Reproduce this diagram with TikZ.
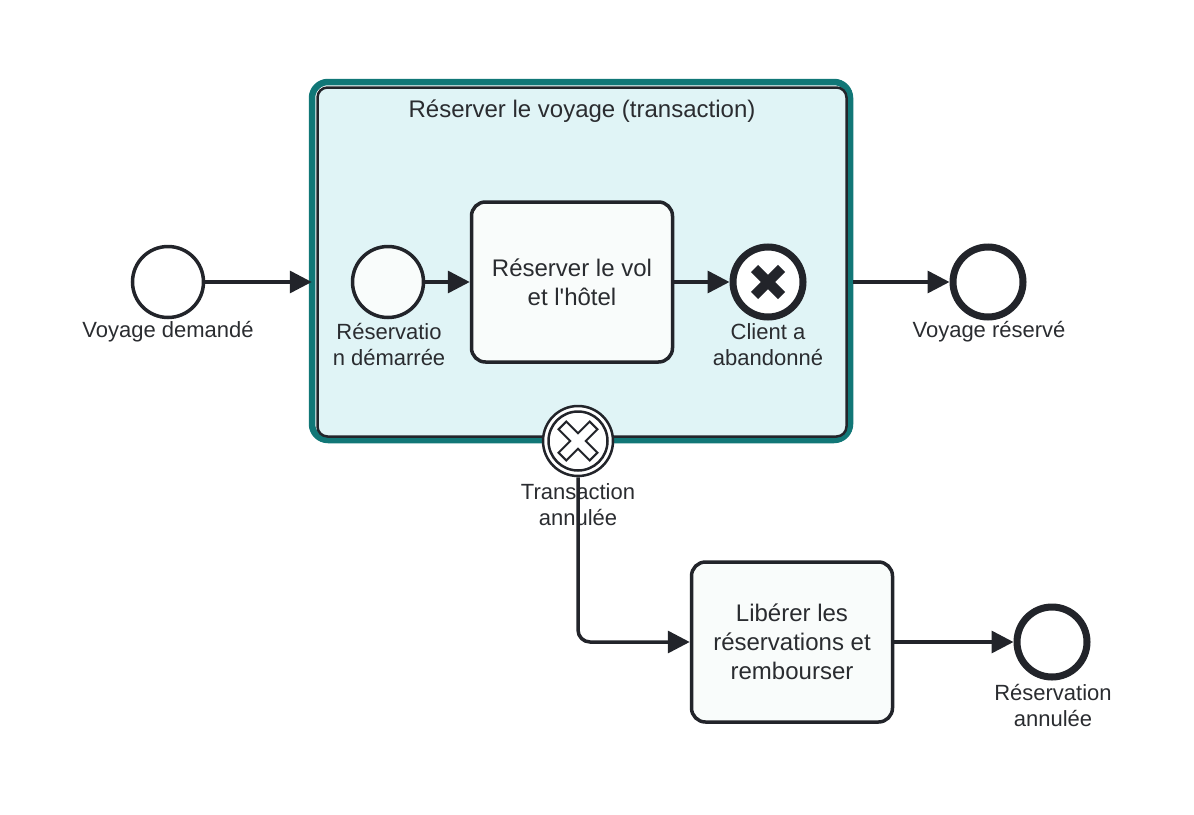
\documentclass[tikz,border=0pt]{standalone}
\usepackage{fontspec}
\setmainfont{Liberation Sans}[Ligatures=TeXOff]
\usetikzlibrary{arrows.meta}
\definecolor{ink}{HTML}{22242A}
\definecolor{tealb}{HTML}{117777}
\definecolor{subfill}{HTML}{E0F4F6}
\definecolor{txt}{HTML}{2A2C30}
\definecolor{taskfill}{HTML}{F9FCFB}
\begin{document}
\begin{tikzpicture}[x=1pt,y=-1pt,
  lbl/.style={font=\fontsize{22}{26}\selectfont, text=txt, align=center, inner sep=0pt},
  tasktext/.style={font=\fontsize{24}{29}\selectfont, text=txt, align=center},
  flow/.style={draw=ink, line width=3.5pt, -{Triangle[length=22pt,width=22pt]}},
  evt/.style={circle, draw=ink, line width=3.5pt, minimum size=71pt, inner sep=0pt, fill=white},
  endevt/.style={circle, draw=ink, line width=7pt, minimum size=70pt, inner sep=0pt, fill=white},
  bevt/.style={circle, draw=ink, line width=2.5pt, minimum size=70pt, inner sep=0pt, fill=white},
  taskbox/.style={draw=ink, line width=3.5pt, rounded corners=14pt, fill=taskfill, minimum width=201pt, minimum height=160pt, tasktext}
]
\useasboundingbox (0,0) rectangle (1194,814);

% transaction subprocess
\node[draw=tealb, line width=6.5pt, rounded corners=16pt, fill=white, minimum width=538pt, minimum height=358pt] (trx) at (581,261) {};
\node[draw=ink, line width=2.5pt, rounded corners=10pt, fill=subfill, minimum width=529pt, minimum height=349pt] (trxin) at (582,262) {};
\node[tasktext, inner sep=0pt] (trxtitle) at (582,111.5) {Réserver le voyage (transaction)};

% events and tasks
\node[evt] (s1) at (168,282) {};
\node[lbl] (s1l) at (168,332) {Voyage demandé};

\node[evt, fill=taskfill] (s2) at (388,282) {};
\node[lbl] (s2l) at (389,345) {Réservatio\\n démarrée};

\node[taskbox] (t1) at (572,282) {Réserver le vol\\et l'hôtel};

\node[endevt] (e1) at (768,282) {};
\draw[ink, line width=10pt] ([shift={(-13.5,-13.5)}]e1.center) -- ([shift={(13.5,13.5)}]e1.center);
\draw[ink, line width=10pt] ([shift={(-13.5,13.5)}]e1.center) -- ([shift={(13.5,-13.5)}]e1.center);
\node[lbl] (e1l) at (768,345) {Client a\\abandonné};

\node[endevt] (e2) at (988,282) {};
\node[lbl] (e2l) at (989,332) {Voyage réservé};

\node[bevt] (b) at (578,441) {};
\draw[ink, line width=2.5pt] (b.center) circle[radius=29.5pt];
\draw[ink, line width=2pt, fill=white, shift={(b.center)}, rotate=45]
  (5.5,5.5) -- (22,5.5) -- (22,-5.5) -- (5.5,-5.5) -- (5.5,-22) -- (-5.5,-22)
  -- (-5.5,-5.5) -- (-22,-5.5) -- (-22,5.5) -- (-5.5,5.5) -- (-5.5,22) -- (5.5,22) -- cycle;
\node[lbl] (bl) at (578,505) {Transaction\\annulée};

\node[taskbox] (t2) at (792,642) {Libérer les\\réservations et\\rembourser};

\node[endevt] (e3) at (1052,642) {};
\node[lbl] (e3l) at (1053,705) {Réservation\\annulée};

% flows
\draw[flow] (s1) -- ([xshift=3pt]s1 -| trx.west);
\draw[flow] (s2) -- (t1);
\draw[flow] (t1) -- (e1);
\draw[flow] (trx.east |- e2) -- (e2);
\draw[flow, rounded corners=12pt] (b) |- (t2);
\draw[flow] (t2) -- (e3);
\end{tikzpicture}
\end{document}
